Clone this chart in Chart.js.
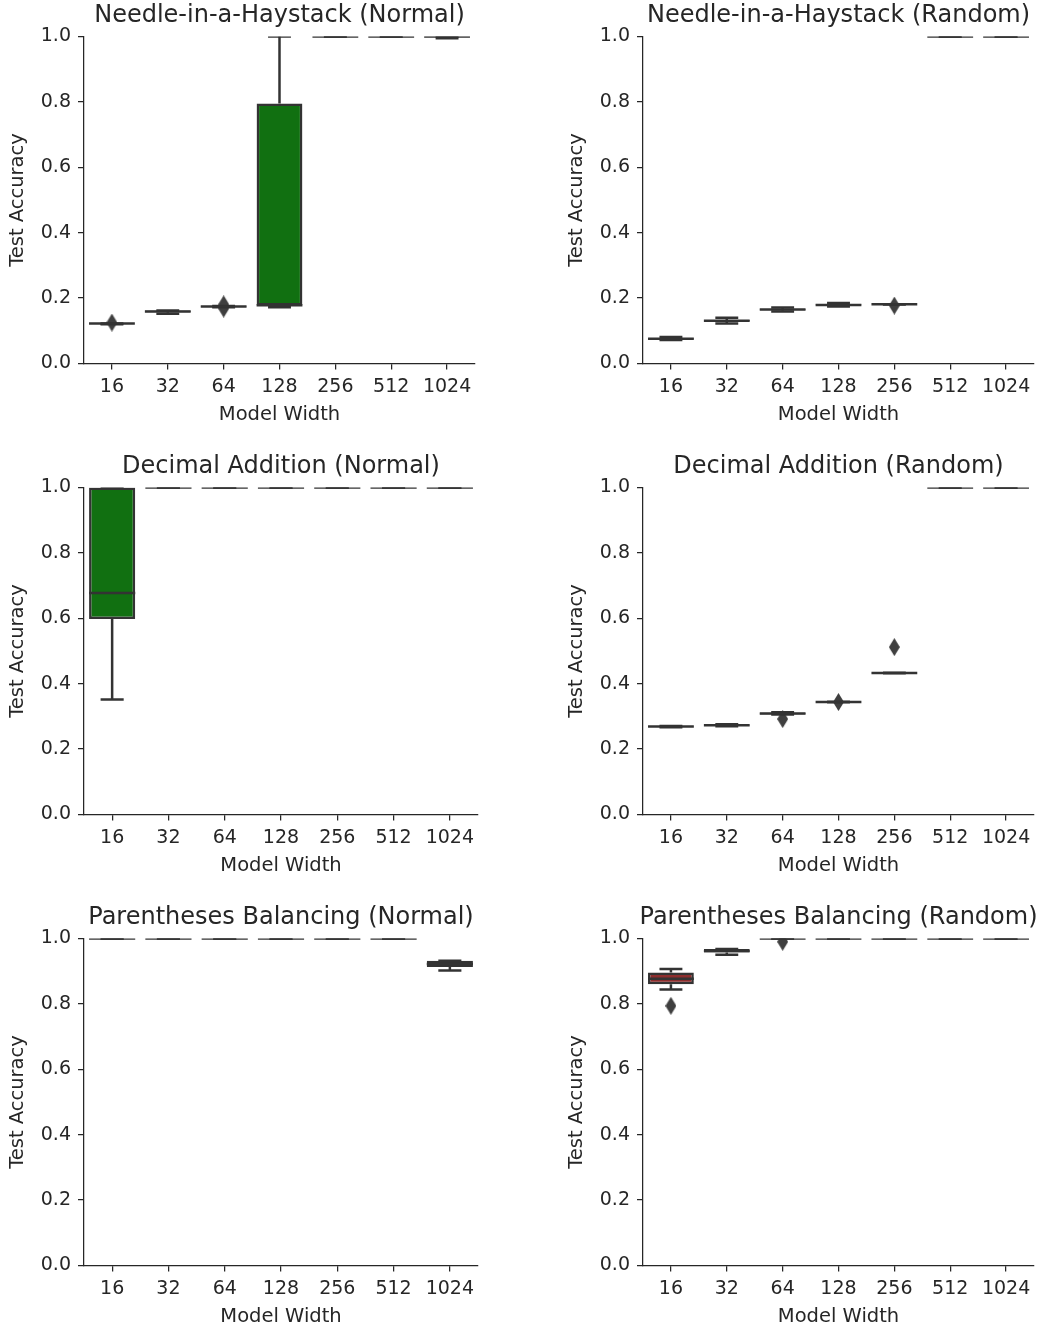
<!DOCTYPE html>
<html>
<head>
<meta charset="utf-8">
<script src="https://cdn.jsdelivr.net/npm/chart.js@4.4.0/dist/chart.umd.min.js"></script>
<style>
  html, body { margin: 0; padding: 0; background: #fff; }
  body { width: 1040px; height: 1329px; position: relative; overflow: hidden; }
  .panel { position: absolute; width: 481px; height: 440px; }
</style>
</head>
<body>
<div class="panel" style="left:0;top:0"><canvas id="p0"></canvas></div>
<div class="panel" style="left:559px;top:0"><canvas id="p1"></canvas></div>
<div class="panel" style="left:0;top:451px"><canvas id="p2"></canvas></div>
<div class="panel" style="left:559px;top:451px"><canvas id="p3"></canvas></div>
<div class="panel" style="left:0;top:902px"><canvas id="p4"></canvas></div>
<div class="panel" style="left:559px;top:902px"><canvas id="p5"></canvas></div>
<script>
// model widths on the x axis
const widths = ['16', '32', '64', '128', '256', '512', '1024'];
const yTicks = [0, 0.2, 0.4, 0.6, 0.8, 1.0];

const titles = [
    'Needle-in-a-Haystack (Normal)', 'Needle-in-a-Haystack (Random)',
    'Decimal Addition (Normal)', 'Decimal Addition (Random)',
    'Parentheses Balancing (Normal)', 'Parentheses Balancing (Random)'
];

// box stats per width: [whisker low, q1, median, q3, whisker high]
const niahNormal = [
    [0.120, 0.121, 0.122, 0.122, 0.122],
    [0.152, 0.157, 0.159, 0.162, 0.162],
    [0.172, 0.173, 0.174, 0.175, 0.176],
    [0.172, 0.177, 0.178, 0.795, 1.0],
    [1, 1, 1, 1, 1],
    [1, 1, 1, 1, 1],
    [0.995, 0.998, 1, 1, 1]
];
const niahRandom = [
    [0.072, 0.075, 0.076, 0.077, 0.081],
    [0.122, 0.129, 0.131, 0.133, 0.140],
    [0.159, 0.163, 0.165, 0.167, 0.171],
    [0.174, 0.178, 0.179, 0.181, 0.185],
    [0.181, 0.181, 0.181, 0.181, 0.181],
    [1, 1, 1, 1, 1],
    [1, 1, 1, 1, 1]
];
const decNormal = [
    [0.352, 0.598, 0.677, 1.0, 1.0],
    [1, 1, 1, 1, 1],
    [1, 1, 1, 1, 1],
    [1, 1, 1, 1, 1],
    [1, 1, 1, 1, 1],
    [1, 1, 1, 1, 1],
    [1, 1, 1, 1, 1]
];
const decRandom = [
    [0.267, 0.268, 0.269, 0.270, 0.271],
    [0.270, 0.272, 0.273, 0.274, 0.276],
    [0.306, 0.306, 0.309, 0.311, 0.313],
    [0.344, 0.344, 0.344, 0.344, 0.344],
    [0.433, 0.433, 0.433, 0.433, 0.433],
    [1, 1, 1, 1, 1],
    [1, 1, 1, 1, 1]
];
const parenNormal = [
    [1, 1, 1, 1, 1],
    [1, 1, 1, 1, 1],
    [1, 1, 1, 1, 1],
    [1, 1, 1, 1, 1],
    [1, 1, 1, 1, 1],
    [1, 1, 1, 1, 1],
    [0.902, 0.913, 0.922, 0.932, 0.932]
];
const parenRandom = [
    [0.844, 0.860, 0.877, 0.896, 0.907],
    [0.950, 0.957, 0.962, 0.968, 0.968],
    [1, 1, 1, 1, 1],
    [1, 1, 1, 1, 1],
    [1, 1, 1, 1, 1],
    [1, 1, 1, 1, 1],
    [1, 1, 1, 1, 1]
];

// outliers: [width, accuracy]
const niahNormalOut = [['16', 0.125], ['64', 0.168], ['64', 0.181]];
const niahRandomOut = [['256', 0.177]];
const decNormalOut = [];
const decRandomOut = [['64', 0.292], ['128', 0.344], ['256', 0.512]];
const parenNormalOut = [];
const parenRandomOut = [['16', 0.794], ['64', 0.99]];

// box face colours
const GREEN = '#117011';
const RED = '#8c2d2d';
const GREY = '#3f3f3f';
const niahNormalFace = [GREY, GREY, GREY, GREEN, GREY, GREY, GREY];
const decNormalFace = [GREEN, GREY, GREY, GREY, GREY, GREY, GREY];
const parenRandomFace = [RED, GREY, GREY, GREY, GREY, GREY, GREY];
const plainFace = [GREY, GREY, GREY, GREY, GREY, GREY, GREY];

const EDGE = '#333333';
const TEXT = '#262626';
const FONT = '"DejaVu Sans", sans-serif';

// thin diamond marker like matplotlib 'd'
function diamondMarker() {
    const c = document.createElement('canvas');
    c.width = 11; c.height = 18;
    const g = c.getContext('2d');
    g.fillStyle = '#3f3f3f';
    g.beginPath();
    g.moveTo(5.5, 0); g.lineTo(11, 9); g.lineTo(5.5, 18); g.lineTo(0, 9);
    g.closePath();
    g.fill();
    return c;
}
const diamond = diamondMarker();

const panelTitle = {
    id: 'panelTitle',
    afterDraw(chart, args, opts) {
        const { ctx, chartArea } = chart;
        ctx.save();
        ctx.font = '24px ' + FONT;
        ctx.fillStyle = TEXT;
        ctx.textAlign = 'center';
        ctx.textBaseline = 'middle';
        ctx.fillText(opts.text, (chartArea.left + chartArea.right) / 2, chartArea.top - 20.5);
        ctx.restore();
    }
};

// whiskers, caps and medians, placed with the chart's own scales
const boxParts = {
    id: 'boxParts',
    afterDatasetsDraw(chart, args, opts) {
        const { ctx, chartArea, scales } = chart;
        const y = scales.y;
        const bars = chart.getDatasetMeta(0).data;
        ctx.save();
        ctx.beginPath();
        ctx.rect(chartArea.left, chartArea.top, chartArea.right - chartArea.left, chartArea.bottom - chartArea.top);
        ctx.clip();
        ctx.strokeStyle = EDGE;
        ctx.lineWidth = 2.5;
        const seg = (x1, y1, x2, y2) => {
            ctx.beginPath(); ctx.moveTo(x1, y1); ctx.lineTo(x2, y2); ctx.stroke();
        };
        opts.stats.forEach((s, i) => {
            const bar = bars[i];
            const cx = bar.x, hw = bar.width / 2;
            const lo = y.getPixelForValue(s[0]);
            const q1 = y.getPixelForValue(s[1]);
            const med = y.getPixelForValue(s[2]);
            const q3 = y.getPixelForValue(s[3]);
            const hi = y.getPixelForValue(s[4]);
            if (lo - q1 > 0.5) seg(cx, q1, cx, lo);
            if (q3 - hi > 0.5) seg(cx, q3, cx, hi);
            seg(cx - hw / 2, lo, cx + hw / 2, lo);
            seg(cx - hw / 2, hi, cx + hw / 2, hi);
            seg(cx - hw, med, cx + hw, med);
        });
        ctx.restore();
    }
};

function renderPanel(id, title, stats, faces, outliers, yTitlePad) {
    return new Chart(document.getElementById(id), {
        type: 'bar',
        data: {
            labels: widths,
            datasets: [
                {
                    type: 'bar',
                    data: stats.map(s => [s[1], s[3]]),
                    backgroundColor: faces,
                    borderColor: EDGE,
                    borderWidth: 2.5,
                    borderSkipped: false,
                    categoryPercentage: 0.82,
                    barPercentage: 1,
                    clip: 0,
                    order: 1
                },
                {
                    type: 'scatter',
                    data: outliers.map(o => ({ x: o[0], y: o[1] })),
                    pointStyle: diamond,
                    pointRadius: 5,
                    clip: 0,
                    order: 2
                }
            ]
        },
        options: {
            responsive: true,
            maintainAspectRatio: false,
            animation: false,
            layout: { padding: { top: 36.5, right: 3, bottom: 11.5, left: 0 } },
            plugins: {
                legend: { display: false },
                tooltip: { enabled: false },
                panelTitle: { text: title },
                boxParts: { stats: stats }
            },
            scales: {
                x: {
                    type: 'category',
                    offset: true,
                    grid: { display: true, offset: false, drawOnChartArea: false, drawTicks: true, tickLength: 6, color: TEXT, lineWidth: 1.25 },
                    border: { display: true, color: TEXT, width: 1.25 },
                    ticks: { color: TEXT, font: { family: FONT, size: 19 }, padding: 6, maxRotation: 0, autoSkip: false },
                    title: { display: true, text: 'Model Width', color: TEXT, font: { family: FONT, size: 19.5 }, padding: { top: 2, bottom: 2 } },
                    afterFit: scale => { scale.height = 65; }
                },
                y: {
                    min: 0,
                    max: 1,
                    afterBuildTicks: scale => { scale.ticks = yTicks.map(v => ({ value: v })); },
                    grid: { display: true, drawOnChartArea: false, drawTicks: true, tickLength: 6, color: TEXT, lineWidth: 1.25 },
                    border: { display: true, color: TEXT, width: 1.25 },
                    ticks: { color: TEXT, font: { family: FONT, size: 19 }, padding: 7, callback: v => v.toFixed(1) },
                    title: { display: true, text: 'Test Accuracy', color: TEXT, font: { family: FONT, size: 19.5 }, padding: { top: yTitlePad, bottom: 0 } },
                    afterFit: scale => { scale.width = 84; }
                }
            }
        },
        plugins: [panelTitle, boxParts]
    });
}

renderPanel('p0', titles[0], niahNormal, niahNormalFace, niahNormalOut, 6);
renderPanel('p1', titles[1], niahRandom, plainFace, niahRandomOut, 6);
renderPanel('p2', titles[2], decNormal, decNormalFace, decNormalOut, 6);
renderPanel('p3', titles[3], decRandom, plainFace, decRandomOut, 6);
renderPanel('p4', titles[4], parenNormal, plainFace, parenNormalOut, 6);
renderPanel('p5', titles[5], parenRandom, parenRandomFace, parenRandomOut, 6);
</script>
</body>
</html>
